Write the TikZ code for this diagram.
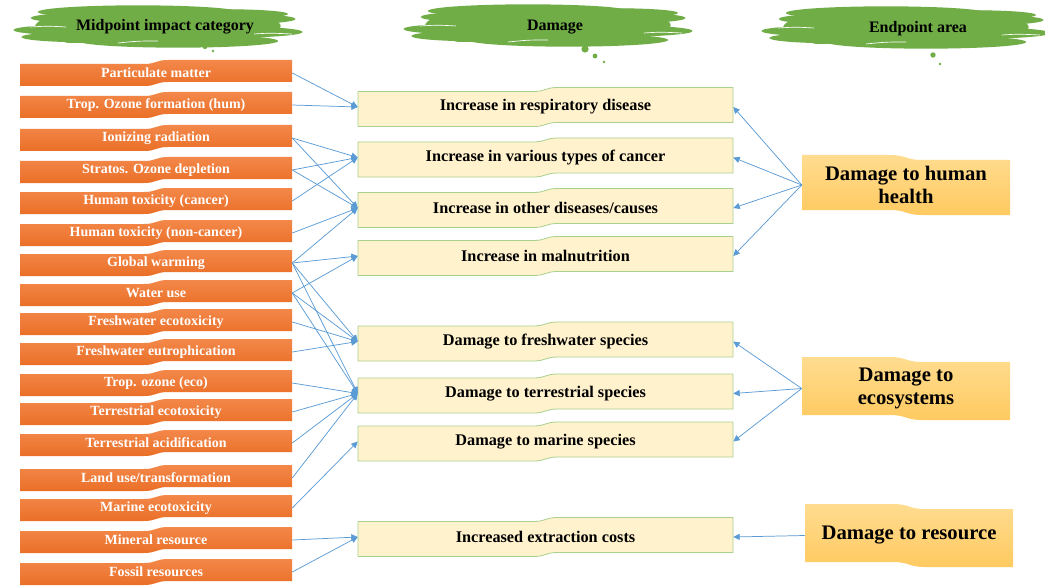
\documentclass[tikz,border=0pt]{standalone}
\usepackage{fontspec}
\setmainfont{Liberation Serif}
\usetikzlibrary{arrows.meta}
\definecolor{grn}{HTML}{70AD47}
\definecolor{orgT}{HTML}{F3884A}
\definecolor{orgB}{HTML}{EA6F27}
\definecolor{crm}{HTML}{FFF2CC}
\definecolor{crmB}{HTML}{A9D18E}
\definecolor{goldT}{HTML}{FFDC90}
\definecolor{goldB}{HTML}{FFCA60}
\definecolor{arr}{HTML}{5B9BD5}
\tikzset{
  lfill/.style={top color=orgT, bottom color=orgB, draw=none},
  mfill/.style={fill=crm, draw=crmB, line width=0.6pt},
  rfill/.style={top color=goldT, bottom color=goldB, draw=none},
  lbox/.style={minimum width=204pt, minimum height=19.5pt, inner sep=0pt,
    font=\fontsize{10.5}{12}\selectfont\bfseries, text=white},
  mbox/.style={minimum width=281.25pt, minimum height=29.25pt, inner sep=0pt,
    font=\fontsize{12.2}{14}\selectfont\bfseries, text=black},
  rbox/.style={minimum width=156pt, minimum height=45pt, inner sep=0pt, align=center,
    font=\fontsize{15.5}{17.5}\selectfont\bfseries, text=black},
  htxt/.style={inner sep=1pt, font=\fontsize{12}{14}\selectfont\bfseries, text=black},
  conn/.style={draw=arr, line width=0.55pt, -{Triangle[length=4.8pt,width=4.6pt]}},
}
% wave box: left part low, right part high
\newcommand\wup[5]{%
  \path[#5] ({#1},{#2+4}) -- ({(#1+#3)/2-12},{#2+4})
   .. controls ({(#1+#3)/2},{#2+4}) and ({(#1+#3)/2},{#2}) .. ({(#1+#3)/2+12},{#2})
   -- ({#3},{#2}) -- ({#3},{#4-4}) -- ({(#1+#3)/2+12},{#4-4})
   .. controls ({(#1+#3)/2},{#4-4}) and ({(#1+#3)/2},{#4}) .. ({(#1+#3)/2-12},{#4})
   -- ({#1},{#4}) -- cycle;}
% wave box: left part high, right part low
\newcommand\wdn[5]{%
  \path[#5] ({#1},{#2}) -- ({(#1+#3)/2-16},{#2})
   .. controls ({(#1+#3)/2},{#2}) and ({(#1+#3)/2},{#2+5}) .. ({(#1+#3)/2+16},{#2+5})
   -- ({#3},{#2+5}) -- ({#3},{#4}) -- ({(#1+#3)/2+16},{#4})
   .. controls ({(#1+#3)/2},{#4}) and ({(#1+#3)/2},{#4-5}) .. ({(#1+#3)/2-16},{#4-5})
   -- ({#1},{#4-5}) -- cycle;}
\newcommand\lb[3]{\wup{20}{#2-13}{292}{#2+13}{lfill}\node[lbox] (#1) at (156,#2) {#3};}
\newcommand\mb[3]{\wup{358}{#2-19.5}{733}{#2+19.5}{mfill}\node[mbox] (#1) at (545.5,#2) {#3};}
\newcommand\rb[5]{\wdn{#2}{#3}{#2+208}{#4}{rfill}\node[rbox] (#1) at ({#2+104},{(#3+#4)/2}) {#5};}
\newcommand\hcloud[2]{%
  \begin{scope}[shift={(#1,#2)}]
    \fill[grn] (0,0) ellipse [x radius=92pt, y radius=14pt];
    \fill[grn, rounded corners=8pt] (-100,-16) rectangle (100,17);
    \fill[grn] (-50,-8) ellipse [x radius=58pt, y radius=4.5pt];
    \fill[grn] (-62,4) ellipse [x radius=62pt, y radius=4.5pt];
    \fill[grn] (-70,11) ellipse [x radius=50pt, y radius=4pt];
    \fill[grn] (55,-7) ellipse [x radius=62pt, y radius=4.5pt];
    \fill[grn] (62,6) ellipse [x radius=62pt, y radius=4.5pt];
    \fill[grn] (70,-12) ellipse [x radius=45pt, y radius=3.5pt];
    \fill[grn] (-20,-14) ellipse [x radius=75pt, y radius=5pt];
    \fill[grn] (20,15) ellipse [x radius=75pt, y radius=5pt];
    \draw[white, line width=0.5pt] (-128,1) .. controls (-110,0) .. (-92,1);
    \draw[white, line width=0.5pt] (96,8) .. controls (112,7) .. (134,8);
    \draw[white, line width=0.5pt] (-40,17) .. controls (-20,15) .. (0,15);
  \end{scope}}
\begin{document}
\begin{tikzpicture}[x=0.75pt,y=-0.75pt]
\fill[white] (0,0) rectangle (1045,588);
\useasboundingbox (0,0) rectangle (1045,588);
% headers
\hcloud{158}{26}
\hcloud{548}{25}
\hcloud{906}{27}
\fill[grn] (205,47) circle [radius=1.6pt];
\fill[grn] (213,51) circle [radius=1pt];
\fill[grn] (585,49) circle [radius=2.7pt];
\fill[grn] (595,56) circle [radius=1.8pt];
\fill[grn] (604,62) circle [radius=1pt];
\fill[grn] (933,55) circle [radius=2pt];
\fill[grn] (940,64) circle [radius=1pt];
\node[htxt] (h1) at (165,27) {Midpoint impact category};
\node[htxt] (h2) at (555,27) {Damage};
\node[htxt] (h3) at (918,29) {Endpoint area};
% left column
\lb{pm}{73}{Particulate matter}
\lb{tro}{105}{Trop. Ozone formation (hum)}
\lb{ion}{138}{Ionizing radiation}
\lb{str}{170}{Stratos. Ozone depletion}
\lb{htc}{201}{Human toxicity (cancer)}
\lb{htn}{233}{Human toxicity (non-cancer)}
\lb{gw}{263}{Global warming}
\lb{wu}{293}{Water use}
\lb{fec}{322}{Freshwater ecotoxicity}
\lb{feu}{352}{Freshwater eutrophication}
\lb{toe}{383}{Trop. ozone (eco)}
\lb{tec}{412}{Terrestrial ecotoxicity}
\lb{tac}{443}{Terrestrial acidification}
\lb{lu}{478}{Land use/transformation}
\lb{mec}{508}{Marine ecotoxicity}
\lb{min}{540}{Mineral resource}
\lb{fos}{572}{Fossil resources}
% middle column
\mb{A}{107}{Increase in respiratory disease}
\mb{B}{157.5}{Increase in various types of cancer}
\mb{C}{208}{Increase in other diseases/causes}
\mb{D}{256}{Increase in malnutrition}
\mb{E}{341.5}{Damage to freshwater species}
\mb{F}{393.5}{Damage to terrestrial species}
\mb{G}{441.5}{Damage to marine species}
\mb{H}{537}{Increased extraction costs}
% right column
\rb{hh}{802}{155}{215}{Damage to human\\health}
\rb{eco}{802}{357}{420}{Damage to\\ecosystems}
\rb{res}{805}{504}{567}{Damage to resource}
% connectors
\foreach \s/\t in {pm/A, tro/A, ion/B, ion/C, str/B, str/C, htc/B, htn/C,
  gw/C, gw/D, gw/E, gw/F, wu/D, wu/E, wu/F, fec/E, feu/E, toe/F, tec/F,
  tac/F, lu/F, mec/G, min/H, fos/H}
  \draw[conn] (\s.east) -- (\t.west);
\foreach \t in {A,B,C,D} \draw[conn] (hh.west) -- (\t.east);
\foreach \t in {E,F,G} \draw[conn] (eco.west) -- (\t.east);
\draw[conn] (res.west) -- (H.east);
\end{tikzpicture}
\end{document}
